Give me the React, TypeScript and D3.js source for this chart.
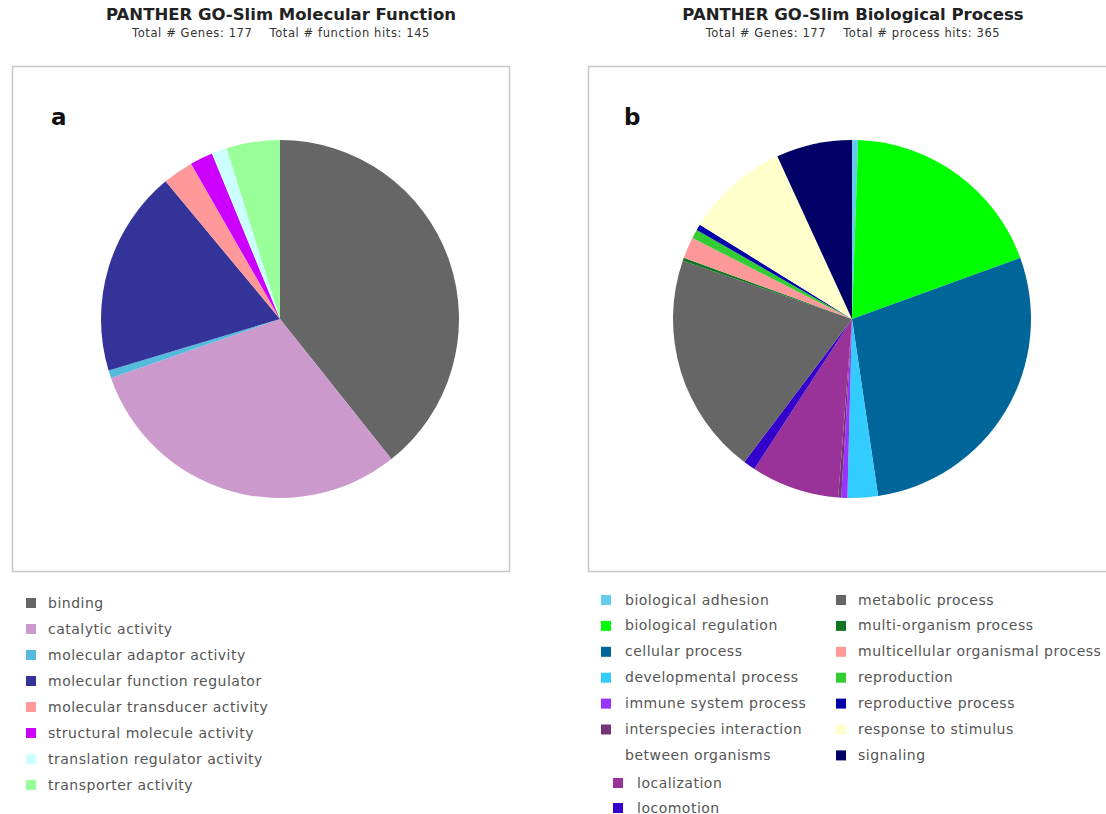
import React from "react";
import * as d3 from "d3";

// Molecular function categories (panel a)
const mfCategories = [
  "binding",
  "catalytic activity",
  "molecular adaptor activity",
  "molecular function regulator",
  "molecular transducer activity",
  "structural molecule activity",
  "translation regulator activity",
  "transporter activity",
];
const mfHits = [57, 44, 1, 27, 4, 3, 2, 7];
const mfColors = ["#666666", "#cc99cc", "#55bbdd", "#333399", "#ff9999", "#cc00ff", "#ccffff", "#99ff99"];

// Biological process categories (panel b)
const bpCategories = [
  "biological adhesion",
  "biological regulation",
  "cellular process",
  "developmental process",
  "immune system process",
  "interspecies interaction between organisms",
  "localization",
  "locomotion",
  "metabolic process",
  "multi-organism process",
  "multicellular organismal process",
  "reproduction",
  "reproductive process",
  "response to stimulus",
  "signaling",
];
const bpHits = [2, 69, 103, 10, 2, 1, 29, 4, 73, 1, 7, 3, 2, 34, 25];
const bpColors = [
  "#66ccee", "#00ff00", "#006699", "#33ccff", "#9933ff", "#773377", "#993399", "#3300cc",
  "#666666", "#117722", "#ff9999", "#33cc33", "#0000aa", "#ffffcc", "#000066",
];

type Slice = { name: string; value: number; color: string };

const zip = (names: string[], values: number[], colors: string[]): Slice[] =>
  names.map((name, i) => ({ name, value: values[i], color: colors[i] }));

const pieGen = d3.pie<Slice>().sort(null).value((d) => d.value).startAngle(0).endAngle(2 * Math.PI);

function Pie({ data, cx, cy, r }: { data: Slice[]; cx: number; cy: number; r: number }) {
  const arcGen = d3.arc<d3.PieArcDatum<Slice>>().innerRadius(0).outerRadius(r);
  return (
    <g transform={`translate(${cx},${cy})`}>
      {pieGen(data).map((a, i) => (
        <path key={i} d={arcGen(a) || ""} fill={a.data.color} />
      ))}
    </g>
  );
}

const FONT = "'DejaVu Sans', Verdana, sans-serif";
const GAP = "\u00a0\u00a0\u00a0\u00a0";

function Header({ cx, title, sub }: { cx: number; title: string; sub: string }) {
  return (
    <g fontFamily={FONT} textAnchor="middle" fill="#222">
      <text x={cx} y={20} fontSize={16.5} fontWeight="bold">{title}</text>
      <text x={cx} y={37} fontSize={11.5} fill="#333" letterSpacing={0.6}>{sub}</text>
    </g>
  );
}

export default function App() {
  const mf = zip(mfCategories, mfHits, mfColors);
  const bp = zip(bpCategories, bpHits, bpColors);

  // legend rows for panel b: first column, second column, and the trailing rows
  const bpCol1 = bp.slice(0, 6);
  const bpTail = bp.slice(6, 8);
  const bpCol2 = bp.slice(8);
  const rowH = 25.9;

  return (
    <svg
      width={1106}
      height={814}
      style={{ position: "absolute", left: 0, top: 0, background: "#fff" }}
    >
      <rect width={1106} height={814} fill="#fff" />

      {/* Panel a */}
      <Header cx={281} title="PANTHER GO-Slim Molecular Function" sub={`Total # Genes: 177${GAP}Total # function hits: 145`} />
      <rect x={12.5} y={66.5} width={497} height={505} fill="#fff" stroke="#c8c8c8" strokeWidth={1.5} />
      <text x={51} y={125} fontFamily={FONT} fontSize={23} fontWeight="bold" fill="#111">a</text>
      <Pie data={mf} cx={280} cy={319} r={179} />
      <g fontFamily={FONT} fontSize={14} fill="#555" letterSpacing={0.5}>
        {mf.map((d, i) => (
          <g key={i} transform={`translate(26,${603 + i * 26})`}>
            <rect x={0} y={-5} width={10} height={10} fill={d.color} />
            <text x={22} y={4.5}>{d.name}</text>
          </g>
        ))}
      </g>

      {/* Panel b */}
      <Header cx={853} title="PANTHER GO-Slim Biological Process" sub={`Total # Genes: 177${GAP}Total # process hits: 365`} />
      <rect x={588.5} y={66.5} width={530} height={505} fill="#fff" stroke="#c8c8c8" strokeWidth={1.5} />
      <text x={624} y={125} fontFamily={FONT} fontSize={23} fontWeight="bold" fill="#111">b</text>
      <Pie data={bp} cx={852} cy={319} r={179} />
      <g fontFamily={FONT} fontSize={14} fill="#555" letterSpacing={0.5}>
        {bpCol1.map((d, i) => (
          <g key={i} transform={`translate(601,${600 + i * rowH})`}>
            <rect x={0} y={-5} width={10} height={10} fill={d.color} />
            {d.name === "interspecies interaction between organisms" ? (
              <text x={24} y={4.5}>
                <tspan x={24}>interspecies interaction</tspan>
                <tspan x={24} dy={rowH}>between organisms</tspan>
              </text>
            ) : (
              <text x={24} y={4.5}>{d.name}</text>
            )}
          </g>
        ))}
        {bpTail.map((d, i) => (
          <g key={i} transform={`translate(613,${783 + i * 25})`}>
            <rect x={0} y={-5} width={10} height={10} fill={d.color} />
            <text x={24} y={4.5}>{d.name}</text>
          </g>
        ))}
        {bpCol2.map((d, i) => (
          <g key={i} transform={`translate(836,${600 + i * rowH})`}>
            <rect x={0} y={-5} width={10} height={10} fill={d.color} />
            <text x={22} y={4.5}>{d.name}</text>
          </g>
        ))}
      </g>
    </svg>
  );
}
